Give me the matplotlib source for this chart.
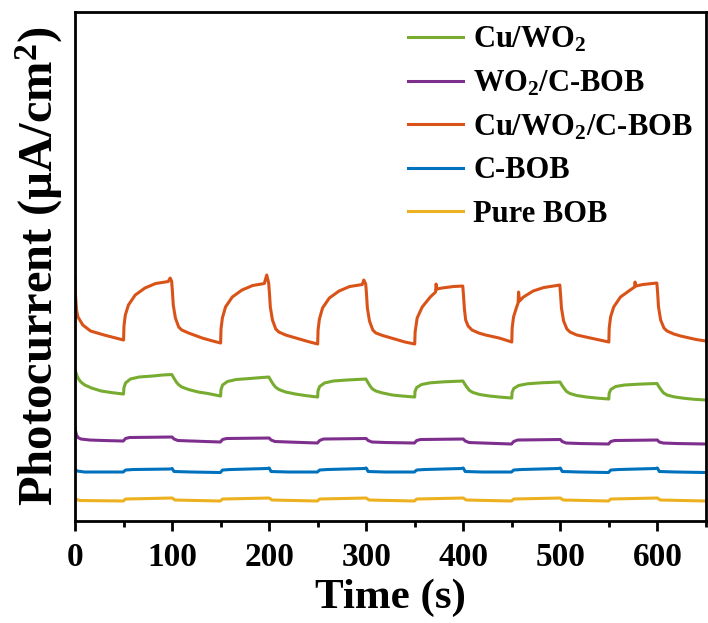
import matplotlib
matplotlib.use("Agg")
import matplotlib.pyplot as plt
from matplotlib.ticker import MultipleLocator

plt.rcParams['font.family'] = ['Liberation Serif', 'DejaVu Serif']
plt.rcParams['font.weight'] = 'bold'
plt.rcParams['mathtext.fontset'] = 'custom'
plt.rcParams['mathtext.rm'] = 'Liberation Serif:bold'
plt.rcParams['mathtext.it'] = 'Liberation Serif:bold'
plt.rcParams['mathtext.bf'] = 'Liberation Serif:bold'

# ---- data (time in s, photocurrent in arbitrary units) ----
t_cuwo2cbob = [0, 0.5, 1.5, 3, 8, 16, 30, 49.7,
               50, 50.4, 51.8, 55, 62, 72, 83, 96, 98, 99.5,
               100.3, 101.2, 103.4, 106.8, 110, 117, 124, 131, 140, 149.7,
               150, 150.4, 151.8, 155, 162, 172, 183, 195, 197.5, 199.5,
               200.3, 201.2, 203.4, 206.8, 210, 217, 224, 231, 240, 249.7,
               250, 250.4, 251.8, 255, 262, 272, 283, 296, 297.5, 299.5,
               300.3, 301.2, 303.4, 306.8, 310, 317, 324, 331, 340, 349.7,
               350, 350.4, 352.5, 357.7, 366, 371.5, 372, 373, 378, 390, 399.5,
               400.3, 401.2, 402.5, 405, 409, 416, 423, 437, 449.7,
               450, 450.4, 451.8, 455, 456.5, 457, 458, 462, 472, 483, 499.5,
               500.3, 501.2, 503.4, 506.8, 510, 517, 524, 531, 540, 549.7,
               550, 550.4, 551.8, 555, 562, 572, 576.5, 577, 578, 585, 599.5,
               600.3, 601.2, 603.4, 606.8, 610, 617, 624, 631, 640, 650]
y_cuwo2cbob = [24.3, 22.5, 21.1, 20.4, 19.6, 19.0, 18.6, 18.1,
               18.1, 19.5, 20.6, 21.6, 22.6, 23.3, 23.75, 23.95, 24.3, 24.0,
               23.0, 21.6, 20.3, 19.4, 19.1, 18.8, 18.55, 18.3, 18.05, 17.8,
               17.8, 19.2, 20.3, 21.4, 22.4, 23.1, 23.55, 23.75, 24.6, 23.8,
               22.8, 21.4, 20.1, 19.2, 18.9, 18.6, 18.4, 18.2, 17.95, 17.7,
               17.7, 19.1, 20.2, 21.3, 22.3, 23.0, 23.45, 23.65, 24.1, 23.7,
               22.7, 21.3, 20.0, 19.1, 18.8, 18.55, 18.35, 18.15, 17.9, 17.7,
               17.7, 18.9, 20.3, 21.4, 22.4, 22.9, 23.7, 23.2, 23.3, 23.45, 23.5,
               22.5, 21.2, 20.1, 19.5, 19.1, 18.8, 18.6, 18.3, 17.9,
               17.9, 19.3, 20.4, 21.4, 21.8, 22.9, 22.0, 22.4, 23.0, 23.35, 23.6,
               22.6, 21.3, 20.0, 19.2, 18.9, 18.6, 18.45, 18.3, 18.1, 17.9,
               17.9, 19.3, 20.4, 21.4, 22.4, 23.1, 23.4, 23.9, 23.5, 23.65, 23.8,
               22.8, 21.4, 20.1, 19.3, 19.0, 18.7, 18.5, 18.35, 18.15, 18.0]

t_cuwo2 = [0, 1, 3, 6, 10, 17, 27, 37, 49.7,
           50, 50.3, 52, 57, 66, 80, 90, 99.7,
           101.5, 104, 106.5, 110, 117, 127, 137, 149.7,
           150, 150.3, 152, 157, 166, 180, 190, 199.7,
           201.5, 204, 206.5, 210, 217, 227, 237, 249.7,
           250, 250.3, 252, 257, 266, 280, 290, 299.7,
           301.5, 304, 306.5, 310, 317, 327, 337, 349.7,
           350, 350.3, 352, 357, 366, 380, 390, 399.7,
           401.5, 404, 406.5, 410, 417, 427, 437, 449.7,
           450, 450.3, 452, 457, 466, 480, 490, 499.7,
           501.5, 504, 506.5, 510, 517, 527, 537, 549.7,
           550, 550.3, 552, 557, 566, 580, 590, 599.7,
           601.5, 604, 606.5, 610, 617, 627, 637, 650]
y_cuwo2 = [15.1, 14.8, 14.3, 13.9, 13.6, 13.3, 13.0, 12.85, 12.7,
           12.7, 13.3, 13.8, 14.2, 14.4, 14.5, 14.6, 14.65,
           14.35, 13.95, 13.65, 13.4, 13.15, 12.9, 12.75, 12.5,
           12.5, 13.1, 13.6, 13.95, 14.15, 14.25, 14.33, 14.4,
           14.1, 13.7, 13.4, 13.15, 12.9, 12.7, 12.55, 12.4,
           12.4, 13.0, 13.45, 13.8, 14.0, 14.1, 14.15, 14.2,
           13.9, 13.5, 13.2, 13.0, 12.8, 12.6, 12.5, 12.4,
           12.4, 12.95, 13.35, 13.65, 13.82, 13.92, 13.96, 14.0,
           13.7, 13.35, 13.05, 12.85, 12.65, 12.5, 12.4, 12.3,
           12.3, 12.85, 13.25, 13.55, 13.72, 13.82, 13.86, 13.9,
           13.6, 13.25, 12.95, 12.75, 12.55, 12.4, 12.3, 12.2,
           12.2, 12.75, 13.15, 13.45, 13.6, 13.68, 13.72, 13.75,
           13.45, 13.1, 12.8, 12.6, 12.42, 12.28, 12.18, 12.1]

t_wo2cbob = [0, 0.5, 1.5, 3, 6, 15, 30, 49.7, 52, 56, 100, 102, 106, 120, 149.7,
             152, 156, 200, 202, 206, 220, 249.7, 252, 256, 300, 302, 306, 320, 349.7,
             352, 356, 400, 402, 406, 420, 449.7, 452, 456, 500, 502, 506, 520, 549.7,
             552, 556, 600, 602, 606, 620, 650]
y_wo2cbob = [9.4, 9.0, 8.6, 8.35, 8.2, 8.1, 8.05, 8.0, 8.25, 8.35, 8.4, 8.2, 8.05, 8.0, 7.9,
             8.15, 8.25, 8.3, 8.1, 7.95, 7.9, 7.8, 8.05, 8.2, 8.25, 8.05, 7.9, 7.85, 7.8,
             8.05, 8.15, 8.2, 8.0, 7.85, 7.8, 7.7, 7.95, 8.1, 8.15, 7.95, 7.8, 7.75, 7.7,
             7.95, 8.05, 8.1, 7.9, 7.8, 7.75, 7.7]

t_cbob = [0, 2, 10, 49.7, 52, 60, 98, 100, 102, 120, 149.7,
          152, 160, 198, 200, 202, 220, 249.7, 252, 260, 298, 300, 302, 320, 349.7,
          352, 360, 398, 400, 402, 420, 449.7, 452, 460, 498, 500, 502, 520, 549.7,
          552, 560, 598, 600, 602, 620, 650]
y_cbob = [5.2, 5.0, 4.9, 4.9, 5.1, 5.15, 5.2, 5.25, 4.95, 4.9, 4.85,
          5.1, 5.15, 5.25, 5.3, 4.95, 4.9, 4.9, 5.1, 5.15, 5.25, 5.3, 4.95, 4.9, 4.9,
          5.1, 5.15, 5.25, 5.3, 4.95, 4.9, 4.9, 5.1, 5.15, 5.25, 5.3, 4.95, 4.9, 4.85,
          5.1, 5.15, 5.25, 5.3, 4.95, 4.9, 4.85]

t_pure = [0, 5, 49.7, 52, 100, 103, 149.7, 152, 200, 203, 249.7, 252, 300, 303,
          349.7, 352, 400, 403, 449.7, 452, 500, 503, 549.7, 552, 600, 603, 650]
y_pure = [2.2, 2.05, 2.0, 2.2, 2.3, 2.1, 2.0, 2.2, 2.3, 2.1, 2.0, 2.2, 2.3, 2.1,
          2.0, 2.2, 2.3, 2.1, 2.0, 2.2, 2.3, 2.1, 2.0, 2.2, 2.3, 2.1, 2.0]

x_ticks = [0, 100, 200, 300, 400, 500, 600]

fig = plt.figure(figsize=(7.08, 6.23), dpi=100)
ax = fig.add_axes([0.106, 0.1637, 0.891, 0.817])

lw = 2.2
ax.plot(t_cuwo2, y_cuwo2, color='#77AC30', lw=lw, label=r'Cu/WO$_2$')
ax.plot(t_wo2cbob, y_wo2cbob, color='#7E2F8E', lw=lw, label=r'WO$_2$/C-BOB')
ax.plot(t_cuwo2cbob, y_cuwo2cbob, color='#D95319', lw=lw, label=r'Cu/WO$_2$/C-BOB')
ax.plot(t_cbob, y_cbob, color='#0072BD', lw=lw, label='C-BOB')
ax.plot(t_pure, y_pure, color='#EDB120', lw=lw, label='Pure BOB')

ax.set_xlim(0, 650)
ax.set_ylim(0, 50.9)
ax.set_xticks(x_ticks)
ax.xaxis.set_minor_locator(MultipleLocator(50))
ax.set_yticks([])
ax.tick_params(axis='x', which='major', direction='out', length=7, width=2,
               labelsize=24, pad=8)
ax.tick_params(axis='x', which='minor', direction='out', length=4, width=2)
for s in ax.spines.values():
    s.set_linewidth(2)

ax.set_xlabel('Time (s)', fontsize=31, fontweight='bold', labelpad=4)
ax.set_ylabel(r'Photocurrent (µA/cm$^2$)', fontsize=35, fontweight='bold', labelpad=7)

leg = ax.legend(loc='upper right', frameon=False, handlelength=1.8,
                labelspacing=0.47, handletextpad=0.35, borderaxespad=0.02,
                bbox_to_anchor=(1.0, 1.0),
                prop={'family': 'Liberation Serif', 'weight': 'bold', 'size': 22})

fig.savefig('out.png', dpi=100)
